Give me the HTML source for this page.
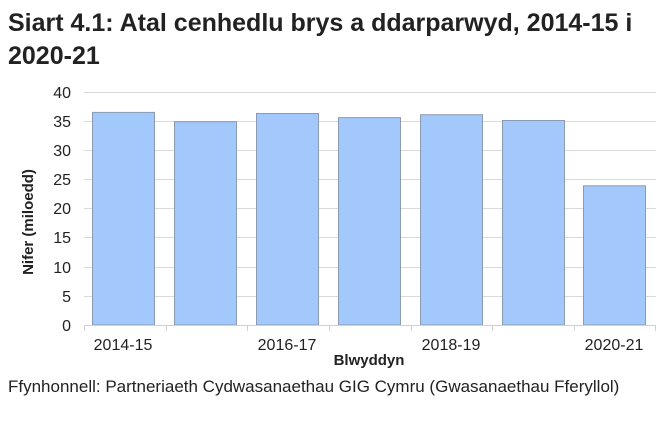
<!DOCTYPE html>
<html><head><meta charset="utf-8"><style>
body{margin:0;background:#fff;width:671px;height:416px;overflow:hidden;font-family:"Liberation Sans",Arial,sans-serif}
</style></head><body>
<svg width="671" height="416" xmlns="http://www.w3.org/2000/svg" font-family="Liberation Sans, Arial, sans-serif">
<text x="8" y="31" font-size="25" font-weight="bold" fill="#222">Siart 4.1: Atal cenhedlu brys a ddarparwyd, 2014-15 i</text>
<text x="8" y="64" font-size="25" font-weight="bold" fill="#222">2020-21</text>
<g stroke="#d9d9d9" stroke-width="1">
<line x1="84" x2="656" y1="92.5" y2="92.5"/><line x1="84" x2="656" y1="121.5" y2="121.5"/>
<line x1="84" x2="656" y1="150.5" y2="150.5"/><line x1="84" x2="656" y1="179.5" y2="179.5"/>
<line x1="84" x2="656" y1="208.5" y2="208.5"/><line x1="84" x2="656" y1="237.5" y2="237.5"/>
<line x1="84" x2="656" y1="267.5" y2="267.5"/><line x1="84" x2="656" y1="296.5" y2="296.5"/>
</g>
<g fill="#a3c8fb" stroke="#8a9bb3" stroke-width="1">
<rect x="92.5" y="112.4" width="62" height="212.6"/>
<rect x="174.5" y="121.7" width="62" height="203.3"/>
<rect x="256.5" y="113.5" width="62" height="211.5"/>
<rect x="338.5" y="117.6" width="62" height="207.4"/>
<rect x="420.5" y="114.7" width="62" height="210.3"/>
<rect x="502.5" y="120.5" width="62" height="204.5"/>
<rect x="583.5" y="185.8" width="62" height="139.2"/>
</g>
<g stroke="#d0d0d0" stroke-width="1">
<line x1="84" x2="656" y1="325.5" y2="325.5"/>
<line x1="84.5" x2="84.5" y1="325" y2="331"/><line x1="166.5" x2="166.5" y1="325" y2="331"/>
<line x1="247.5" x2="247.5" y1="325" y2="331"/><line x1="329.5" x2="329.5" y1="325" y2="331"/>
<line x1="411.5" x2="411.5" y1="325" y2="331"/><line x1="492.5" x2="492.5" y1="325" y2="331"/>
<line x1="574.5" x2="574.5" y1="325" y2="331"/><line x1="655.5" x2="655.5" y1="325" y2="331"/>
</g>
<g font-size="16" fill="#222" text-anchor="end">
<text x="71" y="98">40</text><text x="71" y="127">35</text><text x="71" y="156">30</text>
<text x="71" y="185">25</text><text x="71" y="214">20</text><text x="71" y="243">15</text>
<text x="71" y="273">10</text><text x="71" y="302">5</text><text x="71" y="331">0</text>
</g>
<g font-size="16" fill="#222" text-anchor="middle">
<text x="123" y="350">2014-15</text><text x="287" y="350">2016-17</text>
<text x="451" y="350">2018-19</text><text x="614" y="350">2020-21</text>
</g>
<text x="369" y="365" font-size="15" font-weight="bold" text-anchor="middle" fill="#222">Blwyddyn</text>
<text transform="translate(33,222) rotate(-90)" font-size="15" font-weight="bold" text-anchor="middle" fill="#222">Nifer (miloedd)</text>
<text x="8" y="392" font-size="17" fill="#222">Ffynhonnell: Partneriaeth Cydwasanaethau GIG Cymru (Gwasanaethau Fferyllol)</text>
</svg>
</body></html>
